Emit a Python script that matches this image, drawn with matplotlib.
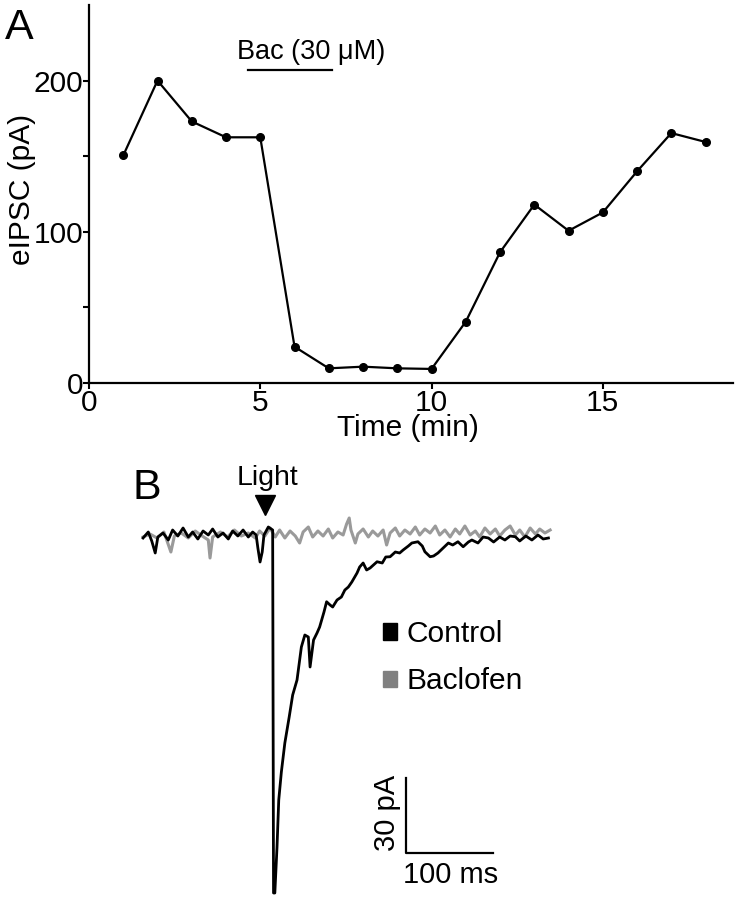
import matplotlib
matplotlib.use("Agg")
import matplotlib.pyplot as plt
from matplotlib.patches import Patch

plt.rcParams['font.family'] = ['Liberation Sans', 'DejaVu Sans']

# panel A: eIPSC amplitude over time
time_min = [1, 2, 3, 4, 5, 6, 7, 8, 9, 10, 11, 12, 13, 14, 15, 16, 17, 18]
eipsc_pa = [150.5, 200, 173, 162.5, 162.5, 24, 9.7, 10.8, 9.7, 9.3,
            40.6, 86.5, 118, 100.7, 112.8, 140, 165.3, 159.4]
bac_start, bac_end = 4.64, 7.1

# panel B: example traces (ms, pA)
ctrl_t = [0, 6, 10, 14, 17, 23, 29, 34, 40, 46, 52, 57, 63, 69, 75, 80, 86, 92,
          98, 103, 109, 115, 121, 126, 130, 132, 134.5, 137, 139, 144, 149,
          150, 151.5, 154, 156, 159, 163, 168, 172, 177, 182, 186, 190, 192,
          196, 200, 203, 208, 211, 215, 218, 223, 228, 232, 236, 240, 246, 249,
          253, 257, 261, 269, 275, 279, 284, 290, 295, 299, 305, 309, 316, 321,
          324, 330, 334, 339, 345, 351, 356, 362, 368, 374, 378, 385, 391, 397,
          403, 410, 416, 422, 428, 433, 440, 447, 454, 460, 466]
ctrl_i = [0, 2.4, -1.2, -6, 0.4, 2, -0.8, 3.2, 0.8, 4, 0.4, 2.4, -0.4, 2.8,
          1.2, 3.6, 0.4, 2, -0.4, 2.8, 0.8, 3.2, 0.4, 2.4, 1.2, -4, -9.6, -5.6,
          1.2, 4.4, 3.2, -142, -142, -123.6, -104.8, -93.6, -82, -71.6, -62.8,
          -56.8, -43.6, -38.8, -39.6, -51.6, -40.8, -38, -35.6, -29.6, -25.5,
          -26.8, -27.6, -24.8, -23.6, -20.8, -19.6, -17.6, -14, -11.6, -10,
          -12.8, -12, -9.5, -10, -7.6, -7.5, -5.6, -6, -4.8, -3.2, -2, -1.5,
          -3.2, -5.5, -7.5, -7.2, -6, -4, -2, -2.8, -1.5, -3.5, -1.6, -0.8, -2,
          0.4, 0, -1.6, 0.4, -0.8, 0.8, 0.5, -1.2, 0.8, -0.8, 1.2, -0.4, 0]

bac_t = [0, 8, 16, 24, 32, 36, 44, 52, 60, 68, 75, 77, 80, 89, 97, 105, 113,
         121, 129, 134, 140, 146, 152, 157, 163, 169, 175, 180, 184, 190, 195,
         201, 207, 213, 218, 224, 230, 234, 237, 239, 244, 247, 253, 259, 264,
         270, 276, 280, 284, 290, 295, 301, 307, 313, 318, 324, 330, 336, 341,
         347, 353, 359, 364, 370, 376, 382, 387, 393, 399, 405, 410, 416, 422,
         428, 433, 439, 445, 451, 456, 462, 468]
bac_i = [0.4, 1.6, 0, 2.4, -5.6, 0.8, 2, 0, 2.8, 0.8, -0.8, -8, 0.4, 2.4, 0.4,
         3.2, 0.8, 2, 0, 2.8, 0.8, 4, 0.4, 3.2, 0, 2.8, 0.8, -2, 2.4, 4.4, 0.4,
         2.8, 0.8, 3.6, 0, 2.4, 1.2, 5.6, 8, 3.2, -2, 1.6, 3.6, 0.4, 2.8, 0.8,
         3.2, -2.8, 2, 4, 0.8, 3.2, 1.6, 4.4, 1.2, 3.6, 2, 4.8, 1.2, 3.2, 0.4,
         3.6, 1.6, 4.8, 1.2, 2.8, 0.4, 4, 1.6, 3.6, 0.8, 3.2, 4.8, 1.2, 3.2,
         0.4, 4, 1.6, 3.6, 2, 3.2]

light_t = 140
scale_t, scale_i = 302, -126
scale_ms, scale_pa = 100, 30

fig = plt.figure(figsize=(7.37, 9), dpi=100)

# ---- panel A
ax = fig.add_axes([89 / 737, 1 - 383 / 900, 644 / 737, 378 / 900])
ax.plot(time_min, eipsc_pa, color='black', lw=1.6, marker='o', ms=5.5)
ax.plot([bac_start, bac_end], [207, 207], color='black', lw=1.6)
ax.text((bac_start + bac_end) / 2 + 0.6, 214.5, 'Bac (30 μM)', ha='center',
        va='baseline', fontsize=19.5)
ax.set_xlim(0, 18.8)
ax.set_ylim(0, 250)
ax.set_xticks([0, 5, 10, 15])
ax.set_yticks([0, 100, 200])
ax.set_yticks([50, 150], minor=True)
for s in ['top', 'right']:
    ax.spines[s].set_visible(False)
for s in ['left', 'bottom']:
    ax.spines[s].set_linewidth(1.6)
ax.tick_params(which='both', direction='out', length=4, width=1.5,
               labelsize=21.5, pad=0)
ax.set_xlabel('Time (min)', fontsize=21.5)
ax.set_ylabel('eIPSC (pA)', fontsize=21.5)
ax.xaxis.set_label_coords(0.4946, -0.081)
ax.yaxis.set_label_coords(-0.083, 0.513)

# ---- panel B
bx = fig.add_axes([130 / 737, 5 / 900, 470 / 737, 400 / 900])
bx.plot(bac_t, bac_i, color='#9a9a9a', lw=2.2, clip_on=False)
bx.plot(ctrl_t, ctrl_i, color='black', lw=2.0, clip_on=False)
bx.set_xlim(-15, 525.3)
bx.set_ylim(-142.8, 17.2)
bx.axis('off')

bx.plot([light_t], [13.2], marker='v', ms=15, color='black', clip_on=False)
bx.text(light_t + 2.5, 21.2, 'Light', ha='center', va='baseline',
        fontsize=20.5)

bx.plot([scale_t, scale_t, scale_t + scale_ms],
        [scale_i + scale_pa, scale_i, scale_i], color='black', lw=1.6)
bx.text(scale_t - 21.5, scale_i + 16, '30 pA', rotation=90, ha='center',
        va='center', fontsize=21)
bx.text(scale_t + 52, scale_i - 8.8, '100 ms', ha='center', va='center',
        fontsize=21)

handles = [Patch(color='black', label='Control'),
           Patch(color='#808080', label='Baclofen')]
fig.legend(handles=handles, loc='upper left',
           bbox_to_anchor=(383 / 737, 1 - 620 / 900), frameon=False,
           fontsize=21.5, handlelength=0.47, handleheight=0.47,
           handletextpad=0.33, labelspacing=0.65, borderpad=0,
           borderaxespad=0)

fig.text(5 / 737, 1 - 39 / 900, 'A', fontsize=31, ha='left', va='baseline')
fig.text(132 / 737, 1 - 499 / 900, 'B', fontsize=31, ha='left',
         va='baseline')

fig.savefig('out.png', dpi=100)
